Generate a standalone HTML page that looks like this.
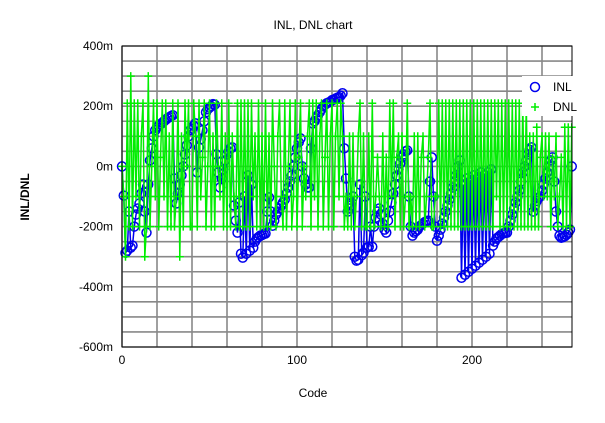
<!DOCTYPE html>
<html><head><meta charset="utf-8"><style>
body{margin:0;background:#fff;}
svg{display:block;font-family:"Liberation Sans",Arial,sans-serif;}
</style></head><body>
<svg id="chart" width="605" height="423">
<rect x="0" y="0" width="605" height="423" fill="#fff"/>
<g id="grid"></g>
<g id="inl"></g>
<g id="dnl"></g>
<rect x="122" y="46" width="450" height="301" fill="none" stroke="#000" stroke-width="1"/>
<g id="axes"></g>
<text x="313" y="29" font-size="12" text-anchor="middle">INL, DNL chart</text>
<text x="313" y="397" font-size="12" text-anchor="middle">Code</text>
<text x="0" y="0" font-size="12" font-weight="bold" text-anchor="middle" transform="translate(29,197) rotate(-90)">INL/DNL</text>
<g>
<rect x="522" y="76" width="52" height="40" fill="#fff"/>
<g>
<circle cx="535" cy="87" r="4.5" fill="none" stroke="#0000ee" stroke-width="1.5"/>
<text x="553" y="91" font-size="12">INL</text></g>
<g>
<path d="M531 107H539M535 103V111" stroke="#00ee00" stroke-width="1.5"/>
<text x="553" y="111" font-size="12">DNL</text></g>
</g>
</svg>
<script>
const yTicks=[400,200,0,-200,-400,-600];
const yTickLabels=["400m","200m","0m","-200m","-400m","-600m"];
const xTicks=[0,100,200];
const xTickLabels=["0","100","200"];
const inlValues=[0,-97,-287,-280,-150,-270,-263,-200,-160,-140,
-123,-90,-60,-150,-220,-60,20,60,100,120,
130,135,140,145,150,155,160,163,167,170,
-40,-123,-90,-60,-30,0,40,70,100,120,
125,135,143,-20,63,90,120,150,180,190,
195,200,207,205,40,-20,-70,-40,-10,20,
40,50,60,63,-130,-180,-220,-120,-290,-303,
-100,-290,-30,-280,-60,-270,-250,-240,-235,-230,
-228,-225,-223,-150,-103,-150,-197,-180,-160,-150,
-140,-130,-120,-110,-90,-70,-50,-30,0,30,
60,80,93,0,-40,-60,-70,-70,60,143,
150,160,170,180,190,200,205,210,212,215,
220,222,225,228,230,235,243,60,-40,-150,
-140,-130,-100,-300,-313,-310,-60,-295,-287,-100,
-270,-267,-200,-267,-200,-170,-150,-140,-160,-190,
-210,-220,-180,-150,-120,-90,-60,-30,-10,10,
30,40,50,53,-100,-200,-230,-220,-215,-210,
-200,-195,-190,-185,-182,-180,-50,30,-100,-200,
-247,-230,-210,-190,-170,-150,-130,-110,-90,-70,
-50,-30,0,20,-370,-60,-360,-40,-350,-50,
-340,-30,-330,-40,-320,-20,-310,-30,-300,-20,
-290,-10,-263,-250,-240,-235,-230,-225,-222,-221,
-220,-200,-180,-160,-140,-120,-100,-80,-50,-20,
0,20,40,55,63,-150,-130,-115,-105,-100,
-80,-60,-40,-20,0,20,30,-50,-150,-200,
-230,-237,-235,-232,-227,-220,-210,0];
const dnlValues=[0,-100,-300,210,-200,300,-200,210,-100,210,
-200,100,210,-300,-200,300,-200,0,210,-100,
210,-200,30,210,-100,210,-200,100,-200,210,
-200,-100,210,-300,100,-200,210,0,210,-200,
-200,210,100,-200,210,-100,30,210,-200,0,
210,-200,100,-200,210,0,-100,210,-200,100,
-200,210,-200,100,-100,-200,210,-200,210,-200,
210,-200,210,-200,210,-100,100,-200,210,-200,
100,-200,210,-200,100,-200,210,0,-200,100,
210,-100,-200,210,-200,0,210,-200,-100,210,
-200,30,210,-200,0,-100,100,210,-200,210,
-100,210,-200,100,210,-200,30,210,-200,100,
210,-200,100,210,-100,210,100,-200,-100,-200,
100,-200,100,-200,-100,100,210,-200,100,-200,
-200,100,-200,210,-200,-100,30,-100,-200,100,
-200,30,-200,210,-100,210,-200,30,100,-200,
100,-200,-100,210,-200,-100,-200,100,-200,100,
-200,30,100,-200,-100,30,210,-200,-200,-100,
-100,210,-200,210,-200,210,-200,210,-200,210,
-200,210,-200,210,-200,210,-200,210,-200,210,
-200,210,-200,210,-200,210,-200,210,-200,210,
-200,210,-200,210,-100,210,-200,210,-200,210,
-200,210,-200,210,-200,210,-200,210,-200,210,
-200,210,-200,100,-200,100,-200,130,-200,30,
100,-100,100,-100,100,-200,30,-100,100,-200,
-100,30,-200,130,-200,130,-200,130];
const NS="http://www.w3.org/2000/svg";
const X0=122,X1=572,Y0=46,Y1=347;
function xs(c){return X0+(c-0)*(X1-X0)/257.14;}
function ys(v){return Y1-(v-(-600))*(Y1-Y0)/1000;}
function mk(tag,attrs,parent){const e=document.createElementNS(NS,tag);for(const k in attrs)e.setAttribute(k,attrs[k]);parent.appendChild(e);return e;}
const grid=document.getElementById('grid');
for(let c=0;c<=257;c+=20){
  const l=mk('line',{x1:xs(c),x2:xs(c),y1:Y0,y2:Y1,stroke:'#888','stroke-width':1.6},grid);
  
  
}
for(let v=-600;v<=400;v+=50){
  const l=mk('line',{x1:X0,x2:X1,y1:ys(v),y2:ys(v),stroke:'#888','stroke-width':1.6},grid);
  
  
}
const axes=document.getElementById('axes');
yTicks.forEach((v,i)=>{
  const t=mk('text',{x:113,y:ys(v)+4,'font-size':12,'text-anchor':'end'},axes);
  t.textContent=yTickLabels[i];
  
  
});
xTicks.forEach((c,i)=>{
  const t=mk('text',{x:xs(c),y:364,'font-size':12,'text-anchor':'middle'},axes);
  t.textContent=xTickLabels[i];
  
  
});
const inl=document.getElementById('inl');
let d='';inlValues.forEach((v,i)=>{d+=(i?'L':'M')+xs(i).toFixed(1)+' '+ys(v).toFixed(1);});
const il=mk('path',{d:d,fill:'none',stroke:'#0000ee','stroke-width':1.5},inl);


inlValues.forEach((v,i)=>{
  const c=mk('circle',{cx:xs(i),cy:ys(v),r:4.5,fill:'none',stroke:'#0000ee','stroke-width':1.5},inl);
  
  
});
const dnl=document.getElementById('dnl');
let d2='';dnlValues.forEach((v,i)=>{d2+=(i?'L':'M')+xs(i).toFixed(1)+' '+ys(v).toFixed(1);});
const dl=mk('path',{d:d2,fill:'none',stroke:'#00ee00','stroke-width':1.5},dnl);


dnlValues.forEach((v,i)=>{
  const x=xs(i),y=ys(v);
  const p=mk('path',{d:`M${x-4} ${y}H${x+4}M${x} ${y-4}V${y+4}`,stroke:'#00ee00','stroke-width':1.5},dnl);
  
  
});
</script>
</body></html>
